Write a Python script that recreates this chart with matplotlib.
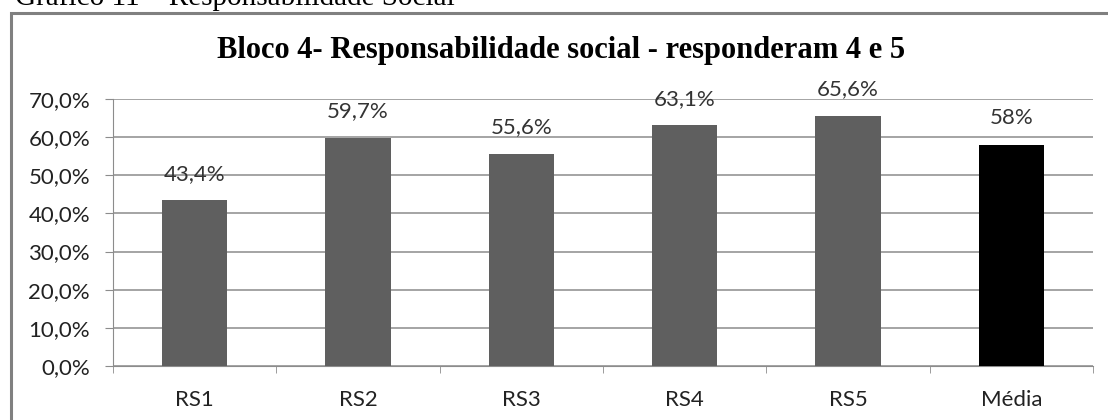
import numpy as np
import matplotlib.pyplot as plt
from matplotlib.patches import Rectangle

categorias = ["RS1", "RS2", "RS3", "RS4", "RS5", "Média"]
valores = [43.4, 59.7, 55.6, 63.1, 65.6]
media = 58
rotulos = ["43,4%", "59,7%", "55,6%", "63,1%", "65,6%", "58%"]
yticks = [0, 10, 20, 30, 40, 50, 60, 70]

plt.rcParams['font.family'] = ['Lato', 'DejaVu Sans']

fig = plt.figure(figsize=(11.08, 4.20), dpi=100)

# caption above the box (partly cut by the top edge)
fig.text(15 / 1108, 1 - 5 / 420, "Gráfico 11 – Responsabilidade Social",
         family='Liberation Serif', fontsize=21, color='black', va='baseline', ha='left')

# chart frame
fig.add_artist(Rectangle((11 / 1108, -0.1), 1.2, (1 - 13 / 420) + 0.1,
                         transform=fig.transFigure, fill=False,
                         edgecolor='#808080', linewidth=2.2))

ax = fig.add_axes([113 / 1108, (420 - 366) / 420, (1093 - 113) / 1108, (366 - 99) / 420])

x = np.arange(len(categorias))
alturas = valores + [media]
cores = ['#5f5f5f'] * len(valores) + ['black']
ax.bar(x, alturas, width=0.4, color=cores, zorder=3)

for xi, h, r in zip(x, alturas, rotulos):
    ax.text(xi, h + 7, r, ha='center', va='center', fontsize=16, color='#333333')

ax.set_xlim(-0.5, len(categorias) - 0.5)
ax.set_ylim(0, 70)
ax.set_yticks(yticks)
ax.set_yticklabels([f"{t},0%" for t in yticks], fontsize=16, color='#222222')
ax.set_xticks(x)
ax.set_xticklabels(categorias, fontsize=16, color='#222222')
ax.set_xticks(np.arange(len(categorias) + 1) - 0.5, minor=True)

ax.yaxis.grid(True, color='#8c8c8c', linewidth=1.1, zorder=0)
ax.tick_params(axis='y', length=5.5, color='#8c8c8c', pad=11)
ax.tick_params(axis='x', which='major', length=0, pad=17)
ax.tick_params(axis='x', which='minor', length=5, color='#8c8c8c')

for lado in ['top', 'right']:
    ax.spines[lado].set_visible(False)
ax.spines['left'].set_color('#8c8c8c')
ax.spines['bottom'].set_color('#8c8c8c')

fig.text(561 / 1108, 1 - 58 / 420, "Bloco 4- Responsabilidade social - responderam 4 e 5",
         family='Liberation Serif', fontweight='bold', fontsize=22,
         ha='center', va='baseline')

fig.savefig("out.png", dpi=100)
